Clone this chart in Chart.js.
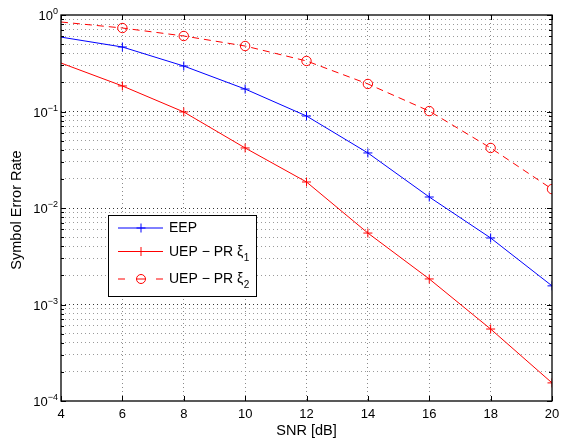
<!DOCTYPE html>
<html>
<head>
<meta charset="utf-8">
<script src="https://cdn.jsdelivr.net/npm/chart.js@4/dist/chart.umd.min.js"></script>
<style>
html,body{margin:0;padding:0;background:#fff;}
#wrap{width:563px;height:443px;position:relative;}
</style>
</head>
<body>
<div id="wrap"><canvas id="c" width="563" height="443"></canvas></div>
<script>
// ---- data ----
const SNR_DB = [4, 6, 8, 10, 12, 14, 16, 18, 20];
const EEP = [0.59, 0.466, 0.296, 0.171, 0.0898, 0.0372, 0.0130, 0.00489, 0.00156];
const UEP_PR_XI1 = [0.318, 0.184, 0.0989, 0.0419, 0.0186, 0.0055, 0.00184, 0.000557, 0.000154];
const UEP_PR_XI2 = [0.846, 0.733, 0.606, 0.477, 0.334, 0.193, 0.101, 0.0419, 0.0157];
const X_TICKS = [4, 6, 8, 10, 12, 14, 16, 18, 20];
const Y_DECADES = [0, -1, -2, -3, -4];
const LEGEND_LABELS = [
  {base: 'EEP', sub: ''},
  {base: 'UEP \u2212 PR \u03BE', sub: '1'},
  {base: 'UEP \u2212 PR \u03BE', sub: '2'}
];
const X_TITLE = 'SNR [dB]';
const Y_TITLE = 'Symbol Error Rate';

const FONT = '"Liberation Sans", Arial, Helvetica, sans-serif';
const toPts = arr => SNR_DB.map((x, i) => ({x: x, y: arr[i]}));
const radii = (r) => SNR_DB.map((x, i) => i === 0 ? 0 : r);

const yTickValues = [];
for (let d = -4; d <= 0; d++) {
  for (let k = 1; k <= 9; k++) {
    const v = k * Math.pow(10, d);
    if (v <= 1.0000001) yTickValues.push(v);
  }
}
const isMajor = v => Math.abs(Math.log10(v) - Math.round(Math.log10(v))) < 1e-6;

const matlabPlugin = {
  id: 'matlab',
  afterDraw(chart) {
    const ctx = chart.ctx;
    const a = chart.chartArea;
    const xs = chart.scales.x, ys = chart.scales.y;
    ctx.save();
    // tick marks (inward)
    ctx.strokeStyle = '#000';
    ctx.lineWidth = 1;
    ctx.beginPath();
    X_TICKS.forEach(t => {
      const px = Math.round(xs.getPixelForValue(t)) + 0.5;
      ctx.moveTo(px, a.bottom); ctx.lineTo(px, a.bottom - 5);
      ctx.moveTo(px, a.top); ctx.lineTo(px, a.top + 5);
    });
    yTickValues.forEach(v => {
      const py = Math.round(ys.getPixelForValue(v)) + 0.5;
      const len = isMajor(v) ? 5 : 3;
      ctx.moveTo(a.left, py); ctx.lineTo(a.left + len, py);
      ctx.moveTo(a.right, py); ctx.lineTo(a.right - len, py);
    });
    ctx.stroke();
    // frame
    ctx.lineWidth = 1.3;
    ctx.strokeRect(a.left, a.top, a.right - a.left, a.bottom - a.top);

    // x tick labels
    ctx.fillStyle = '#000';
    ctx.font = '13px ' + FONT;
    ctx.textAlign = 'center';
    ctx.textBaseline = 'middle';
    X_TICKS.forEach(t => {
      ctx.fillText(String(t), xs.getPixelForValue(t), a.bottom + 13.5);
    });
    // x title
    ctx.font = '14.5px ' + FONT;
    ctx.fillText(X_TITLE, (a.left + a.right) / 2, a.bottom + 30);
    // y tick labels with superscript
    Y_DECADES.forEach(d => {
      const py = ys.getPixelForValue(Math.pow(10, d));
      const expTxt = d === 0 ? '0' : '\u2212' + String(-d);
      ctx.font = '9px ' + FONT;
      const ew = ctx.measureText(expTxt).width;
      ctx.font = '13px ' + FONT;
      const bw = ctx.measureText('10').width;
      const right = a.left - 3;
      ctx.textAlign = 'left';
      ctx.textBaseline = 'alphabetic';
      ctx.fillText('10', right - ew - bw, py + 5);
      ctx.font = '9px ' + FONT;
      ctx.fillText(expTxt, right - ew, py - 1);
    });
    // y title
    ctx.save();
    ctx.translate(17, (a.top + a.bottom) / 2 + 2);
    ctx.rotate(-Math.PI / 2);
    ctx.font = '14.5px ' + FONT;
    ctx.textAlign = 'center';
    ctx.textBaseline = 'middle';
    ctx.fillText(Y_TITLE, 0, 0);
    ctx.restore();

    // legend
    const lx = 108.5, ly = 215.5, lw = 148, lh = 81;
    ctx.fillStyle = '#fff';
    ctx.fillRect(lx, ly, lw, lh);
    ctx.strokeStyle = '#000';
    ctx.lineWidth = 1;
    ctx.strokeRect(lx, ly, lw, lh);
    const rows = [228, 251.5, 279];
    chart.data.datasets.forEach((ds, i) => {
      const y = rows[i];
      ctx.strokeStyle = ds.borderColor;
      ctx.lineWidth = 1;
      ctx.beginPath();
      if (ds.borderDash && ds.borderDash.length) {
        ctx.moveTo(118, y); ctx.lineTo(125, y);
        ctx.moveTo(156, y); ctx.lineTo(163, y);
      } else {
        ctx.moveTo(118, y); ctx.lineTo(163, y);
      }
      ctx.stroke();
      ctx.beginPath();
      if (ds.pointStyle === 'circle') {
        ctx.arc(141, y, 4.5, 0, Math.PI * 2);
        ctx.moveTo(136.5, y); ctx.lineTo(145.5, y);
      } else {
        ctx.moveTo(141 - 4.5, y); ctx.lineTo(141 + 4.5, y);
        ctx.moveTo(141, y - 4.5); ctx.lineTo(141, y + 4.5);
      }
      ctx.stroke();
      ctx.fillStyle = '#000';
      ctx.font = '14px ' + FONT;
      ctx.textAlign = 'left';
      ctx.textBaseline = 'middle';
      const lab = LEGEND_LABELS[i];
      ctx.fillText(lab.base, 169, y + 0.5);
      if (lab.sub) {
        const w = ctx.measureText(lab.base).width;
        ctx.font = '10px ' + FONT;
        ctx.fillText(lab.sub, 169 + w + 0.5, y + 6.5);
      }
    });
    ctx.restore();
  }
};

new Chart(document.getElementById('c'), {
  type: 'line',
  data: {
    datasets: [
      {
        label: 'EEP',
        data: toPts(EEP),
        borderColor: '#0000ff',
        backgroundColor: 'rgba(0,0,0,0)',
        borderWidth: 1,
        pointStyle: 'cross',
        pointRadius: radii(4.5),
        pointBorderWidth: 1,
        tension: 0
      },
      {
        label: 'UEP - PR ξ1',
        data: toPts(UEP_PR_XI1),
        borderColor: '#ff0000',
        backgroundColor: 'rgba(0,0,0,0)',
        borderWidth: 1,
        pointStyle: 'cross',
        pointRadius: radii(4.5),
        pointBorderWidth: 1,
        tension: 0
      },
      {
        label: 'UEP - PR ξ2',
        data: toPts(UEP_PR_XI2),
        borderColor: '#ff0000',
        backgroundColor: 'rgba(0,0,0,0)',
        borderWidth: 1,
        borderDash: [7, 5],
        pointStyle: 'circle',
        pointRadius: radii(4.7),
        pointBorderWidth: 1,
        tension: 0
      }
    ]
  },
  options: {
    responsive: false,
    animation: false,
    devicePixelRatio: 1,
    layout: {padding: {left: 61, right: 11, top: 15, bottom: 42}},
    plugins: {legend: {display: false}, tooltip: {enabled: false}},
    elements: {line: {borderCapStyle: 'butt'}},
    scales: {
      x: {
        type: 'linear',
        min: 4, max: 20,
        afterBuildTicks: s => { s.ticks = X_TICKS.map(v => ({value: v})); },
        ticks: {display: false},
        grid: {
          drawTicks: false,
          color: ctx => (ctx.tick && (ctx.tick.value === 4 || ctx.tick.value === 20)) ? 'rgba(0,0,0,0)' : '#8a8a8a',
          lineWidth: 1
        },
        border: {display: false, dash: [1, 3]}
      },
      y: {
        type: 'logarithmic',
        min: 1e-4, max: 1,
        afterBuildTicks: s => { s.ticks = yTickValues.map(v => ({value: v})); },
        ticks: {display: false},
        grid: {
          drawTicks: false,
          color: ctx => {
            if (!ctx.tick) return '#999';
            const v = ctx.tick.value;
            if (v >= 0.9999 || v <= 1.0001e-4) return 'rgba(0,0,0,0)';
            return isMajor(v) ? '#333' : '#9a9a9a';
          },
          lineWidth: 1
        },
        border: {display: false, dash: [1, 3]}
      }
    }
  },
  plugins: [matlabPlugin]
});
</script>
</body>
</html>
